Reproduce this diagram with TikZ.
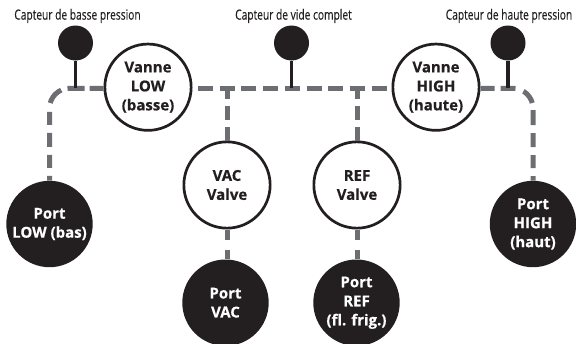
\documentclass[tikz,border=0pt]{standalone}
\usepackage{fontspec}
\setmainfont{Open Sans}
\newfontfamily\capfont[FakeStretch=0.73,FakeBold=0.15]{Open Sans}
\newfontfamily\labfont[UprightFont=* Bold,FakeBold=0.5]{Open Sans}
\definecolor{ink}{HTML}{231F20}
\definecolor{pipe}{HTML}{6D6E71}
\tikzset{
  x=1pt,y=-1pt,
  valve/.style={circle,draw=ink,line width=2.7pt,fill=white,minimum size=86.3pt,inner sep=0pt,align=center,text=ink,font=\labfont\fontsize{15}{19}\selectfont},
  port/.style={circle,fill=ink,minimum size=86.4pt,inner sep=0pt,align=center,text=white,font=\labfont\fontsize{15}{19}\selectfont},
  sensor/.style={circle,fill=ink,minimum size=35pt,inner sep=0pt},
  caption/.style={text=ink,font=\capfont\fontsize{14}{16}\selectfont,inner sep=0pt},
  pipeline/.style={draw=pipe,line width=5pt},
  busdash/.style={pipeline,dash pattern=on 15pt off 6.7pt},
  stem/.style={draw=ink,line width=3.2pt},
}
\begin{document}
\begin{tikzpicture}
\useasboundingbox (0,0) rectangle (576,343);
\node[valve] (vlow) at (148,87.2) {Vanne\\LOW\\(basse)};
\node[valve] (vhigh) at (436,87.2) {Vanne\\HIGH\\(haute)};
\node[valve] (vvac) at (227,185) {VAC\\Valve};
\node[valve] (vref) at (357,185) {REF\\Valve};
\node[port] (plow) at (49.5,224) {Port\\LOW (bas)};
\node[port] (phigh) at (533,224) {Port\\HIGH\\(haut)};
\node[port] (pvac) at (225.5,302.7) {Port\\VAC};
\node[port] (pref) at (356.5,302.7) {Port\\REF\\(fl. frig.)};
\node[sensor] (slow) at (75.5,43) {};
\node[sensor] (svac) at (291.5,43) {};
\node[sensor] (shigh) at (508,43) {};
\node[caption] (clow) at (77.5,16) {Capteur de basse pression};
\node[caption] (cvac) at (293.5,16) {Capteur de vide complet};
\node[caption] (chigh) at (509,16) {Capteur de haute pression};
\coordinate (jlow) at (75.5,88.3);
\coordinate (jvac) at (291.5,88.3);
\coordinate (jhigh) at (508,88.3);
\coordinate (jv) at (227,88.3);
\coordinate (jr) at (357,88.3);
% bus
\draw[pipeline,rounded corners=20pt,dash pattern=on 14pt off 5pt on 17pt off 6.5pt on 17.5pt off 9pt on 13pt off 8pt on 14pt off 8pt on 13pt off 8pt on 20pt off 5pt] (vlow.west |- jlow) -- (plow.north |- jlow) -- (plow.north);
\draw[busdash,dash phase=16.2pt] (vlow.east |- jlow) -- (vhigh.west |- jlow);
\draw[pipeline,rounded corners=20pt,dash pattern=on 14pt off 6pt on 15pt off 8.5pt on 15pt off 7.1pt on 15pt off 8pt on 14pt off 8pt on 13pt off 8pt on 20pt off 5pt] (vhigh.east |- jhigh) -- (phigh.north |- jhigh) -- (phigh.north);
% branches
\draw[pipeline,dash pattern=on 14pt off 7pt] (vvac.north) -- (jv);
\draw[pipeline,dash pattern=on 14pt off 7pt] (vref.north) -- (jr);
\draw[pipeline,dash pattern=on 10pt off 10pt] (vvac.south) -- (pvac.north -| vvac.south);
\draw[pipeline,dash pattern=on 10pt off 10pt] (vref.south) -- (pref.north -| vref.south);
% stems
\draw[stem] (slow) -- (jlow);
\draw[stem] (svac) -- (jvac);
\draw[stem] (shigh) -- (jhigh);
\end{tikzpicture}
\end{document}
